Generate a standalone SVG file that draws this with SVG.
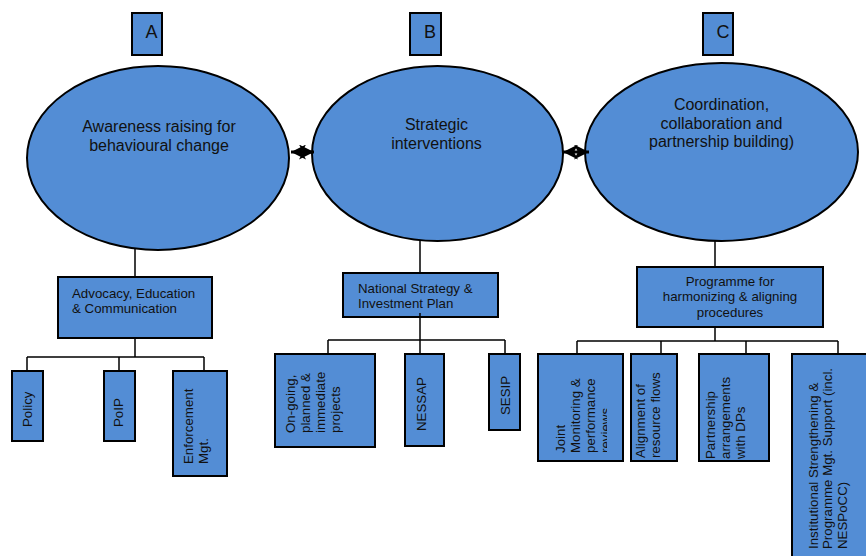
<svg xmlns="http://www.w3.org/2000/svg" width="866" height="556" viewBox="0 0 866 556">
  <style>
    .box { fill: #538DD5; stroke: #000; stroke-width: 2; }
    .oval { fill: #538DD5; stroke: #000; stroke-width: 2; }
    .wire { fill: none; stroke: #000; stroke-width: 1.5; }
    .link { fill: none; stroke: #000; stroke-width: 3; }
    text { font-family: "Liberation Sans", Arial, sans-serif; fill: #111; }
    .big { font-size: 16px; text-anchor: middle; }
    .letter { font-size: 18px; text-anchor: middle; }
    .lbl { font-size: 13.3px; }
    .mid { text-anchor: middle; }
  </style>
  <defs>
    <marker id="stealth" viewBox="0 0 15 15" refX="15" refY="7.5" markerWidth="15" markerHeight="15" markerUnits="userSpaceOnUse" orient="auto-start-reverse">
      <path d="M0,0 L15,7.5 L0,15 L4,7.5 z" fill="#000"/>
    </marker>
    <clipPath id="clipJoint"><rect x="538" y="354" width="69" height="107"/></clipPath>
  </defs>

  <!-- pillar labels -->
  <g id="tagA"><rect class="box" x="132" y="13" width="30" height="42"/><text class="letter" x="151.5" y="38">A</text></g>
  <g id="tagB"><rect class="box" x="410" y="13" width="31" height="42"/><text class="letter" x="430" y="38">B</text></g>
  <g id="tagC"><rect class="box" x="703" y="13" width="30" height="42"/><text class="letter" x="723" y="38">C</text></g>

  <!-- pillars -->
  <g id="pillarA">
    <ellipse class="oval" cx="158" cy="158" rx="131" ry="92"/>
    <text class="big" x="159" y="132">Awareness raising for</text>
    <text class="big" x="159" y="151">behavioural change</text>
  </g>
  <g id="pillarB">
    <ellipse class="oval" cx="437.5" cy="153.5" rx="125.5" ry="87.5"/>
    <text class="big" x="436.5" y="130">Strategic</text>
    <text class="big" x="436.5" y="148.5">interventions</text>
  </g>
  <g id="pillarC">
    <ellipse class="oval" cx="721.5" cy="152" rx="136.5" ry="89"/>
    <text class="big" x="721.5" y="110">Coordination,</text>
    <text class="big" x="721.5" y="128.5">collaboration and</text>
    <text class="big" x="721.5" y="147">partnership building)</text>
  </g>

  <!-- programme boxes -->
  <g id="advocacy">
    <rect class="box" x="58" y="277" width="154" height="61"/>
    <text class="lbl" x="72" y="297.5">Advocacy, Education</text>
    <text class="lbl" x="72" y="312.5">&amp; Communication</text>
  </g>
  <g id="nsip">
    <rect class="box" x="343" y="273" width="155" height="44"/>
    <text class="lbl" x="358" y="292.5">National Strategy &amp;</text>
    <text class="lbl" x="358" y="307.5">Investment Plan</text>
  </g>
  <g id="harmonizing">
    <rect class="box" x="637" y="267" width="186" height="60"/>
    <text class="lbl mid" x="730" y="286">Programme for</text>
    <text class="lbl mid" x="730" y="301.3">harmonizing &amp; aligning</text>
    <text class="lbl mid" x="730" y="316.6">procedures</text>
  </g>

  <!-- components of A -->
  <g id="policy">
    <rect class="box" x="12" y="371" width="31" height="70"/>
    <text class="lbl" transform="translate(31.5,427) rotate(-90)">Policy</text>
  </g>
  <g id="poip">
    <rect class="box" x="104" y="371" width="31" height="70"/>
    <text class="lbl" transform="translate(122.5,427) rotate(-90)">PoIP</text>
  </g>
  <g id="enforcement">
    <rect class="box" x="173" y="371" width="54" height="105"/>
    <text class="lbl" transform="translate(193,464) rotate(-90)">
      <tspan x="0" y="0">Enforcement</tspan><tspan x="0" y="15.3">Mgt.</tspan>
    </text>
  </g>

  <!-- components of B -->
  <g id="projects">
    <rect class="box" x="275" y="354" width="100" height="93"/>
    <text class="lbl" transform="translate(294.5,433) rotate(-90)">
      <tspan x="0" y="0">On-going,</tspan><tspan x="0" y="15.3">planned &amp;</tspan><tspan x="0" y="30.6">immediate</tspan><tspan x="0" y="45.9">projects</tspan>
    </text>
  </g>
  <g id="nessap">
    <rect class="box" x="405" y="354" width="39" height="92"/>
    <text class="lbl" transform="translate(425.5,431) rotate(-90)">NESSAP</text>
  </g>
  <g id="sesip">
    <rect class="box" x="489" y="354" width="31" height="76"/>
    <text class="lbl" transform="translate(509.5,415) rotate(-90)">SESIP</text>
  </g>

  <!-- components of C -->
  <g id="monitoring">
    <rect class="box" x="538" y="354" width="85" height="107"/>
    <g clip-path="url(#clipJoint)">
      <text class="lbl" transform="translate(564.5,453) rotate(-90)">
        <tspan x="0" y="0">Joint</tspan><tspan x="0" y="15.3">Monitoring &amp;</tspan><tspan x="0" y="30.6">performance</tspan><tspan x="0" y="45.9">reviews</tspan>
      </text>
    </g>
  </g>
  <g id="resources">
    <rect class="box" x="631" y="354" width="46" height="107"/>
    <text class="lbl" transform="translate(644.5,458) rotate(-90)">
      <tspan x="0" y="0">Alignment of</tspan><tspan x="0" y="15.5">resource flows</tspan>
    </text>
  </g>
  <g id="partnership">
    <rect class="box" x="699" y="354" width="70" height="107"/>
    <text class="lbl" transform="translate(714.5,459) rotate(-90)">
      <tspan x="0" y="0">Partnership</tspan><tspan x="0" y="15">arrangements</tspan><tspan x="0" y="30">with DPs</tspan>
    </text>
  </g>
  <g id="institutional">
    <rect class="box" x="792" y="354" width="90" height="220"/>
    <text class="lbl" transform="translate(817.5,549) rotate(-90)">
      <tspan x="0" y="0">Institutional Strengthening &amp;</tspan><tspan x="0" y="14.7">Programme Mgt. Support (incl.</tspan><tspan x="0" y="29.4">NESPoCC)</tspan>
    </text>
  </g>

  <!-- connectors, drawn on top of the shapes -->
  <g id="connectors">
    <!-- two-way links between the three pillars -->
    <line class="link" x1="291" y1="152" x2="314" y2="152" marker-start="url(#stealth)" marker-end="url(#stealth)"/>
    <line class="link" x1="563" y1="152" x2="589" y2="152" marker-start="url(#stealth)" marker-end="url(#stealth)"/>
    <!-- pillar A tree -->
    <path class="wire" d="M135,249 V277 M135,338 V357 M27,357 H204 M27,357 V371 M119,357 V371 M204,357 V371"/>
    <!-- pillar B tree -->
    <path class="wire" d="M420,240 V273 M420,313 V340 M328,340 H505 M328,340 V354 M420,340 V354 M505,340 V354"/>
    <!-- pillar C tree -->
    <path class="wire" d="M715,240 V267 M715,327 V341 M577,341 H838 M577,341 V354 M661,341 V354 M746,341 V354 M838,341 V354"/>
  </g>
</svg>
